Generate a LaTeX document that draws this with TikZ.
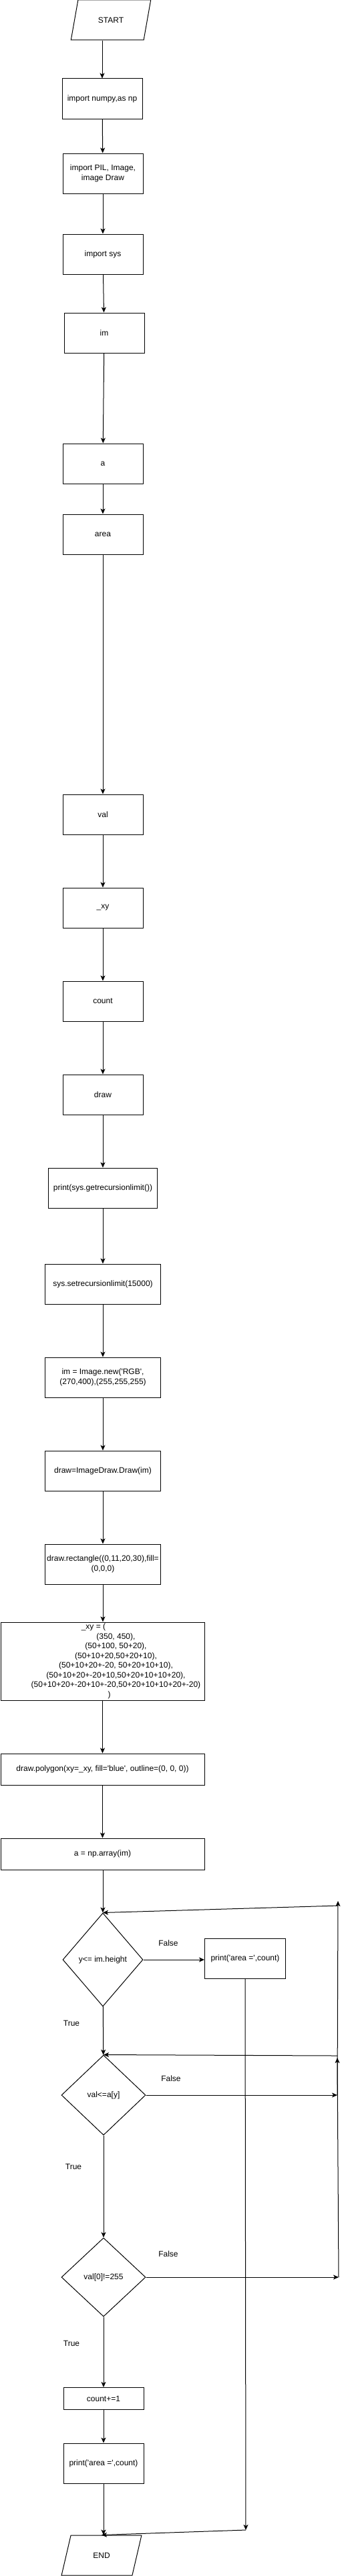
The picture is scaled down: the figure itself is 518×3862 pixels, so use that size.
\documentclass[tikz,border=0pt]{standalone}
\usepackage{fontspec}
\setmainfont{Liberation Sans}
\usepackage{tikz}
\usetikzlibrary{arrows.meta,shapes.geometric}
\usetikzlibrary{positioning}

\newcommand{\sqt}{\textquotesingle}

\tikzset{
  block/.style={draw, rectangle, minimum width=120pt, minimum height=60pt, inner sep=2pt, align=center},
  io/.style={draw, trapezium, trapezium left angle=70, trapezium right angle=110, trapezium stretches=true, minimum width=120pt, minimum height=60pt, inner sep=2pt},
  decide/.style={draw, diamond, aspect=1, inner sep=0pt},
  flow/.style={-{Stealth[length=8pt,width=7pt,inset=2pt]}}
}

\begin{document}
\begin{tikzpicture}[x=1pt, y=-1pt, line width=1pt, font=\fontsize{12}{14.5}\selectfont]
            \useasboundingbox (0,0) rectangle (518,3862);
            % imports and variables
            \node[io] at (166,30) (start) {START};
            \node[block] at (153,148) (npImp) {import numpy,as np};
            \node[block] at (154,260) (pilImp) {import PIL, Image,\\image Draw};
            \node[block] at (154,381) (sysImp) {import sys};
            \node[block] at (156,499) (imVar) {im};
            \node[block] at (154,695) (aVar) {a};
            \node[block] at (154,801) (areaVar) {area};
            \node[block] at (154,1221) (valVar) {val};
            \node[block] at (154,1361) (xyVar) {\_xy};
            \node[block] at (154,1501) (countVar) {count};
            \node[block] at (154,1641) (drawVar) {draw};
            \node[block, minimum width=163pt] at (154,1781) (getLim) {print(sys.getrecursionlimit())};
            \node[block, minimum width=173pt] at (154,1925) (setLim) {sys.setrecursionlimit(15000)};
            \node[block, minimum width=173pt] at (154,2065) (newImg) {im = Image.new(\sqt RGB\sqt,\\(270,400),(255,255,255)};
            \node[block, minimum width=173pt] at (154,2205) (mkDraw) {draw=ImageDraw.Draw(im)};
            \node[block, minimum width=173pt] at (154,2345) (drawRect) {draw.rectangle((0,11,20,30),fill=\\(0,0,0)};
            \node[block, minimum width=305pt, minimum height=117pt] at (153.5,2490.5) (xyList) {\_xy = (\hspace*{27pt}\\
                \hspace*{40pt}(350, 450),\\
                \hspace*{40pt}(50+100, 50+20),\\
                \hspace*{40pt}(50+10+20,50+20+10),\\
                \hspace*{40pt}(50+10+20+-20, 50+20+10+10),\\
                \hspace*{40pt}(50+10+20+-20+10,50+20+10+10+20),\\
                \hspace*{40pt}(50+10+20+-20+10+-20,50+20+10+10+20+-20)\\
                \hspace*{20pt})};
            \node[block, minimum width=305pt, minimum height=47pt] at (153.5,2652.5) (drawPoly) {draw.polygon(xy=\_xy, fill=\sqt blue\sqt, outline=(0, 0, 0))};
            \node[block, minimum width=305pt, minimum height=47pt] at (153.5,2779.5) (toArray) {a = np.array(im)};
            % loops
            \node[decide, minimum width=120pt, minimum height=140pt] at (154,2938) (yLoop) {y<= im.height};
            \node[block, minimum width=121pt] at (367,2936) (printOut) {print(\sqt area =\sqt,count)};
            \node[decide, minimum width=126pt, minimum height=120pt] at (155,3141) (valCheck) {val<=a[y]};
            \node[decide, minimum width=126pt, minimum height=118pt] at (155,3414) (pixCheck) {val[0]!=255};
            \node[block, minimum height=33pt] at (155,3596) (countInc) {count+=1};
            \node[block] at (155,3693) (printArea) {print(\sqt area =\sqt,count)};
            \node[io] at (152,3831) (finish) {END};
            % branch labels
            \node at (252,2913) (noY) {False};
            \node at (107,3033) (yesY) {True};
            \node at (256,3116) (noVal) {False};
            \node at (110,3248) (yesVal) {True};
            \node at (252,3379) (noPix) {False};
            \node at (107,3513) (yesPix) {True};
            \coordinate (valFalse) at (505,3141);
            \coordinate (loopUp1) at (506,2850);
            \coordinate (loopTop1) at (506,2857);
            \coordinate (pixFalse) at (507,3414);
            \coordinate (loopUp2) at (505,3085);
            \coordinate (loopTop2) at (505,3082);
            \coordinate (outDown) at (368,3793);
            % main line
            \draw[flow] (start.south -| npImp.north) -- (npImp.north);
            \draw[flow] (npImp) -- (pilImp);
            \draw[flow] (pilImp) -- (sysImp);
            \draw[flow] (sysImp) -- (imVar);
            \draw[flow] (imVar) -- (aVar);
            \draw[flow] (aVar) -- (areaVar);
            \draw[flow] (areaVar) -- (valVar);
            \draw[flow] (valVar) -- (xyVar);
            \draw[flow] (xyVar) -- (countVar);
            \draw[flow] (countVar) -- (drawVar);
            \draw[flow] (drawVar) -- (getLim);
            \draw[flow] (getLim) -- (setLim);
            \draw[flow] (setLim) -- (newImg);
            \draw[flow] (newImg) -- (mkDraw);
            \draw[flow] (mkDraw) -- (drawRect);
            \draw[flow] (drawRect.south) -- (drawRect.south |- xyList.north);
            \draw[flow] (xyList) -- (drawPoly);
            \draw[flow] (drawPoly) -- (toArray);
            \draw[flow] (toArray.south -| yLoop.north) -- (yLoop.north);
            \draw[flow] (yLoop) -- (valCheck);
            \draw[flow] (valCheck) -- (pixCheck);
            \draw[flow] (pixCheck) -- (countInc);
            \draw[flow] (countInc) -- (printArea);
            \draw[flow] (printArea.south) -- (printArea.south |- finish.north);
            % false branches
            \draw[flow] (yLoop.east) -- (yLoop.east -| printOut.west);
            \draw[flow] (printOut) -- (outDown);
            \draw[flow] (outDown) -- (finish.north);
            \draw[flow] (valCheck.east) -- (valFalse);
            \draw[flow] (valFalse) -- (loopUp1);
            \draw[flow] (loopTop1) -- (yLoop.north);
            \draw[flow] (pixCheck.east) -- (pixFalse);
            \draw[flow] (pixFalse) -- (loopUp2);
            \draw[flow] (loopTop2) -- (valCheck.north);
        \end{tikzpicture}
\end{document}
